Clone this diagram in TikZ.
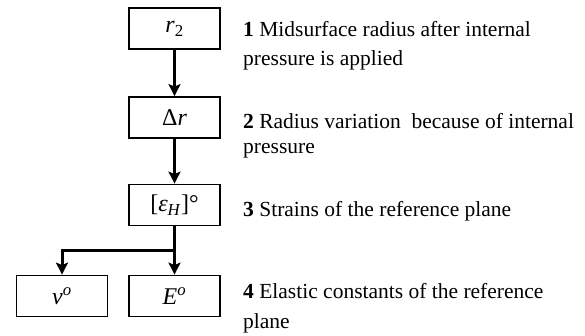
\documentclass[tikz,border=0pt]{standalone}
\usepackage{fontspec}
\setmainfont{Liberation Serif}
\usetikzlibrary{calc,arrows.meta}
\tikzset{
    box/.style={
        draw, line width=1.8pt, minimum width=91pt, minimum height=41pt,
        inner sep=0pt, font=\fontsize{24}{28}\selectfont
    },
    arr/.style={
        line width=3pt, -{Stealth[length=12pt,width=12pt,inset=2.5pt]}
    },
    txt/.style={
        anchor=base west, inner sep=0pt, font=\fontsize{21.5}{26}\selectfont
    }
}

\begin{document}
\begin{tikzpicture}[x=1pt,y=-1pt,line join=miter]

% --- frame ---
    \useasboundingbox (0,0) rectangle (585,335);

% boxes of the chain
    \node[box] (rad)  at (174.5, 28.5) {\textit{r}\textsubscript{2}};
    \node[box] (drad) at (174.5,117.5) {Δ\textit{r}};
    \node[box] (eps)  at (174.5,205.0) {[\textit{ε}\textsubscript{\textit{H}}]°};
    \node[box] (nu)   at ( 62.0,296.0) {\textit{ν}\textsuperscript{\textit{o}}};
    \node[box] (emod) at (174.5,296.0) {\textit{E}\textsuperscript{\textit{o}}};

% branch point
    \coordinate (split) at ($ (eps.south)!0.5!(emod.north) $);

% arrows
    \draw[arr] (rad)  -- (drad);
    \draw[arr] (drad) -- (eps);
    \draw[arr] (eps)  -- (emod);
    \draw[arr] (eps.south) -- (split) -| (nu.north);

% explanations (right column)
    \node[txt] (t1a) at (243, 36) {\textbf{1} Midsurface radius after internal};
    \node[txt] (t1b) at (243, 65) {pressure is applied};
    \node[txt] (t2a) at (243,128) {\textbf{2} Radius variation\ \ because of internal};
    \node[txt] (t2b) at (243,153) {pressure};
    \node[txt] (t3)  at (243,216) {\textbf{3} Strains of the reference plane};
    \node[txt] (t4a) at (243,298) {\textbf{4} Elastic constants of the reference};
    \node[txt] (t4b) at (243,328) {plane};

\end{tikzpicture}
\end{document}
